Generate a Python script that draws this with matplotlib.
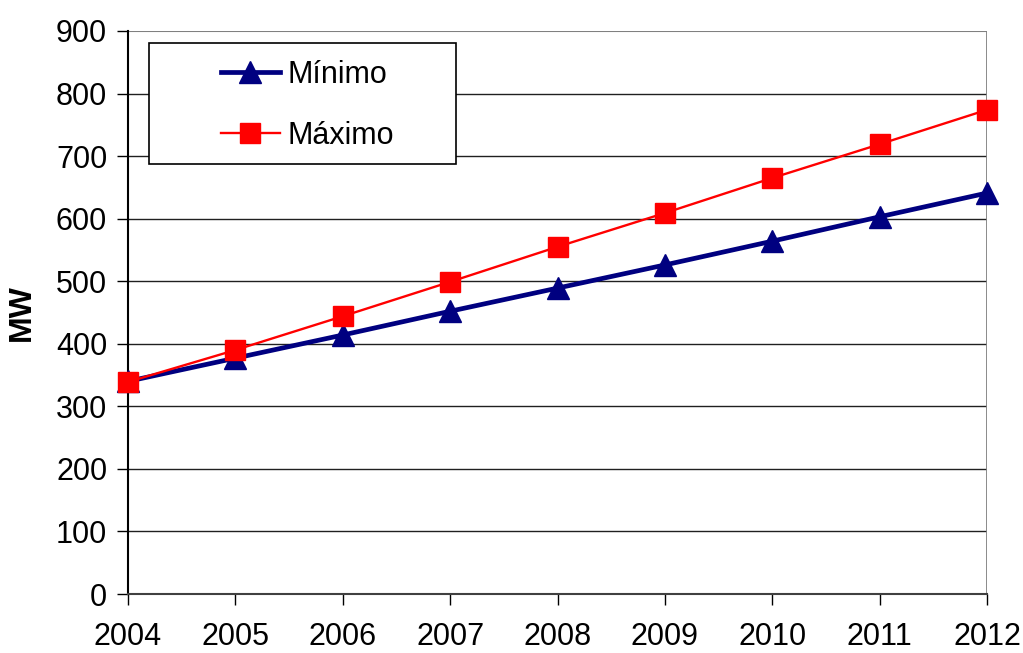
import matplotlib
matplotlib.use("Agg")
import matplotlib.pyplot as plt
from matplotlib.patches import Rectangle

# datos
anios = [2004, 2005, 2006, 2007, 2008, 2009, 2010, 2011, 2012]
minimo = [340, 377, 414, 452, 489, 526, 564, 603, 641]
maximo = [339, 390, 444, 499, 555, 609, 665, 719, 774]
yticks = [0, 100, 200, 300, 400, 500, 600, 700, 800, 900]

plt.rcParams['font.family'] = ['Liberation Sans', 'DejaVu Sans']

fig = plt.figure(figsize=(10.23, 6.53), dpi=100)
ax = fig.add_axes([128/1023, 1-594/653, 859/1023, 563/653])

# rejilla horizontal
for v in yticks[1:-1]:
  ax.axhline(v, color='#202020', linewidth=1.0, zorder=1)
ax.axhline(900, color='#808080', linewidth=1.5, zorder=1)
ax.axvline(2012, color='#808080', linewidth=2.0, zorder=1)

l1, = ax.plot(anios, minimo, '-', color='#000080', linewidth=3.4, marker='^',
              markersize=16, label=u'Mínimo', zorder=3, clip_on=False)
l2, = ax.plot(anios, maximo, '-', color='#ff0000', linewidth=1.7, marker='s',
              markersize=15, label=u'Máximo', zorder=4, clip_on=False)

ax.set_xlim(2004, 2012)
ax.set_ylim(0, 900)
ax.set_xticks(anios)
ax.set_yticks(yticks)
ax.tick_params(axis='both', direction='out', length=8, width=1, labelsize=22, colors='black')
ax.tick_params(axis='x', pad=12)
ax.tick_params(axis='y', pad=7)
for s in ['top', 'right']:
  ax.spines[s].set_visible(False)
ax.spines['left'].set_linewidth(1.5)
ax.spines['bottom'].set_linewidth(1.5)
ax.spines['bottom'].set_color('#404040')

ax.set_ylabel('MW', fontsize=23, fontweight='bold', labelpad=14)

# caja de la leyenda
x0 = (149-128)/859.0
y0 = (594-164)/563.0
ax.add_patch(Rectangle((x0, y0), (456-149)/859.0, (164-43)/563.0, transform=ax.transAxes,
                       facecolor='white', edgecolor='black', linewidth=1.2, zorder=5))
leg = ax.legend(handles=[l1, l2], loc='upper left', bbox_to_anchor=((221-128)/859.0, (594-60)/563.0),
                frameon=False, fontsize=22, handlelength=1.93, handletextpad=0.23,
                labelspacing=1.0, borderaxespad=0, borderpad=0)
leg.set_zorder(6)

fig.savefig('out.png', dpi=100)
